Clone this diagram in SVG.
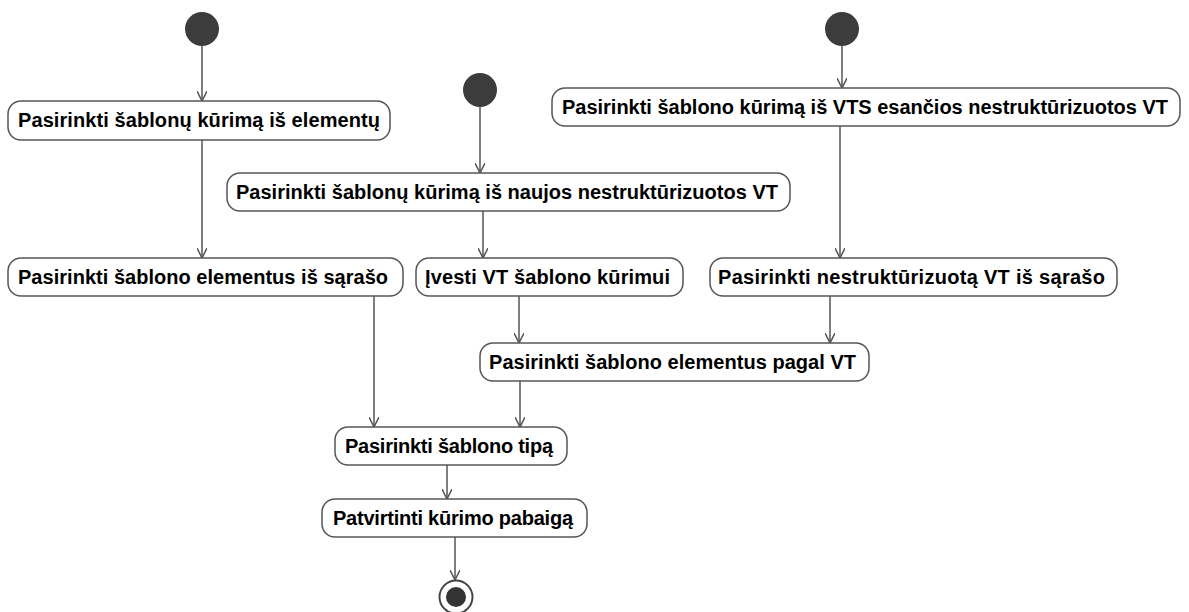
<svg xmlns="http://www.w3.org/2000/svg" width="1189" height="612" viewBox="0 0 1189 612">
  <style>
    .act { fill: #ffffff; stroke: #555555; stroke-width: 1.5; }
    .lbl { font-family: "Liberation Sans", Arial, sans-serif; font-weight: bold; font-size: 20px; fill: #000000; }
    .start { fill: #3c3c3c; }
    .flow { stroke: #555555; stroke-width: 1.5; fill: none; marker-end: url(#open); }
  </style>
  <defs>
    <marker id="open" viewBox="0 0 10 10" refX="10" refY="5" markerWidth="10" markerHeight="10" markerUnits="userSpaceOnUse" orient="auto">
      <path d="M0,0 L10,5 L0,10" fill="none" stroke="#555555" stroke-width="1.5"/>
    </marker>
  </defs>
  <rect width="1189" height="612" fill="#ffffff"/>

  <!-- initial nodes -->
  <g id="start1"><circle class="start" cx="202" cy="29" r="17"/></g>
  <g id="start2"><circle class="start" cx="480" cy="90" r="17"/></g>
  <g id="start3"><circle class="start" cx="842" cy="29" r="17"/></g>

  <!-- actions -->
  <g id="a1">
    <rect class="act" x="8" y="101" width="382" height="39" rx="13"/>
    <text class="lbl" x="18" y="127" textLength="362" lengthAdjust="spacing">Pasirinkti šablonų kūrimą iš elementų</text>
  </g>
  <g id="a2">
    <rect class="act" x="227" y="173" width="563" height="38" rx="13"/>
    <text class="lbl" x="236" y="199" textLength="542" lengthAdjust="spacing">Pasirinkti šablonų kūrimą iš naujos nestruktūrizuotos VT</text>
  </g>
  <g id="a3">
    <rect class="act" x="552" y="88" width="628" height="38" rx="13"/>
    <text class="lbl" x="562" y="114" textLength="606" lengthAdjust="spacing">Pasirinkti šablono kūrimą iš VTS esančios nestruktūrizuotos VT</text>
  </g>
  <g id="a4">
    <rect class="act" x="8" y="258" width="395" height="38" rx="13"/>
    <text class="lbl" x="18" y="284" textLength="370" lengthAdjust="spacing">Pasirinkti šablono elementus iš sąrašo</text>
  </g>
  <g id="a5">
    <rect class="act" x="416" y="258" width="267" height="38" rx="13"/>
    <text class="lbl" x="425" y="284" textLength="245" lengthAdjust="spacing">Įvesti VT šablono kūrimui</text>
  </g>
  <g id="a6">
    <rect class="act" x="710" y="258" width="407" height="38" rx="13"/>
    <text class="lbl" x="718" y="284" textLength="387" lengthAdjust="spacing">Pasirinkti nestruktūrizuotą VT iš sąrašo</text>
  </g>
  <g id="a7">
    <rect class="act" x="480" y="343" width="389" height="38" rx="13"/>
    <text class="lbl" x="489" y="369" textLength="367" lengthAdjust="spacing">Pasirinkti šablono elementus pagal VT</text>
  </g>
  <g id="a8">
    <rect class="act" x="335" y="427" width="232" height="38" rx="13"/>
    <text class="lbl" x="345" y="453" textLength="208" lengthAdjust="spacing">Pasirinkti šablono tipą</text>
  </g>
  <g id="a9">
    <rect class="act" x="322" y="499" width="265" height="38" rx="13"/>
    <text class="lbl" x="333" y="525" textLength="240" lengthAdjust="spacing">Patvirtinti kūrimo pabaigą</text>
  </g>

  <!-- final node -->
  <g id="end">
    <circle cx="456" cy="597" r="16.5" fill="#ffffff" stroke="#444444" stroke-width="2"/>
    <circle cx="456" cy="597" r="10" fill="#333333"/>
  </g>

  <!-- control flows -->
  <g id="flows">
    <line class="flow" x1="202" y1="46" x2="202" y2="101"/>
    <line class="flow" x1="202" y1="140" x2="202" y2="258"/>
    <line class="flow" x1="480" y1="107" x2="480" y2="173"/>
    <line class="flow" x1="483" y1="211" x2="483" y2="258"/>
    <line class="flow" x1="842" y1="46" x2="842" y2="88"/>
    <line class="flow" x1="840" y1="126" x2="840" y2="258"/>
    <line class="flow" x1="519" y1="296" x2="519" y2="343"/>
    <line class="flow" x1="830" y1="296" x2="830" y2="343"/>
    <line class="flow" x1="374" y1="296" x2="374" y2="427"/>
    <line class="flow" x1="520" y1="381" x2="520" y2="427"/>
    <line class="flow" x1="447" y1="465" x2="447" y2="499"/>
    <line class="flow" x1="455" y1="537" x2="455" y2="580"/>
  </g>
</svg>
